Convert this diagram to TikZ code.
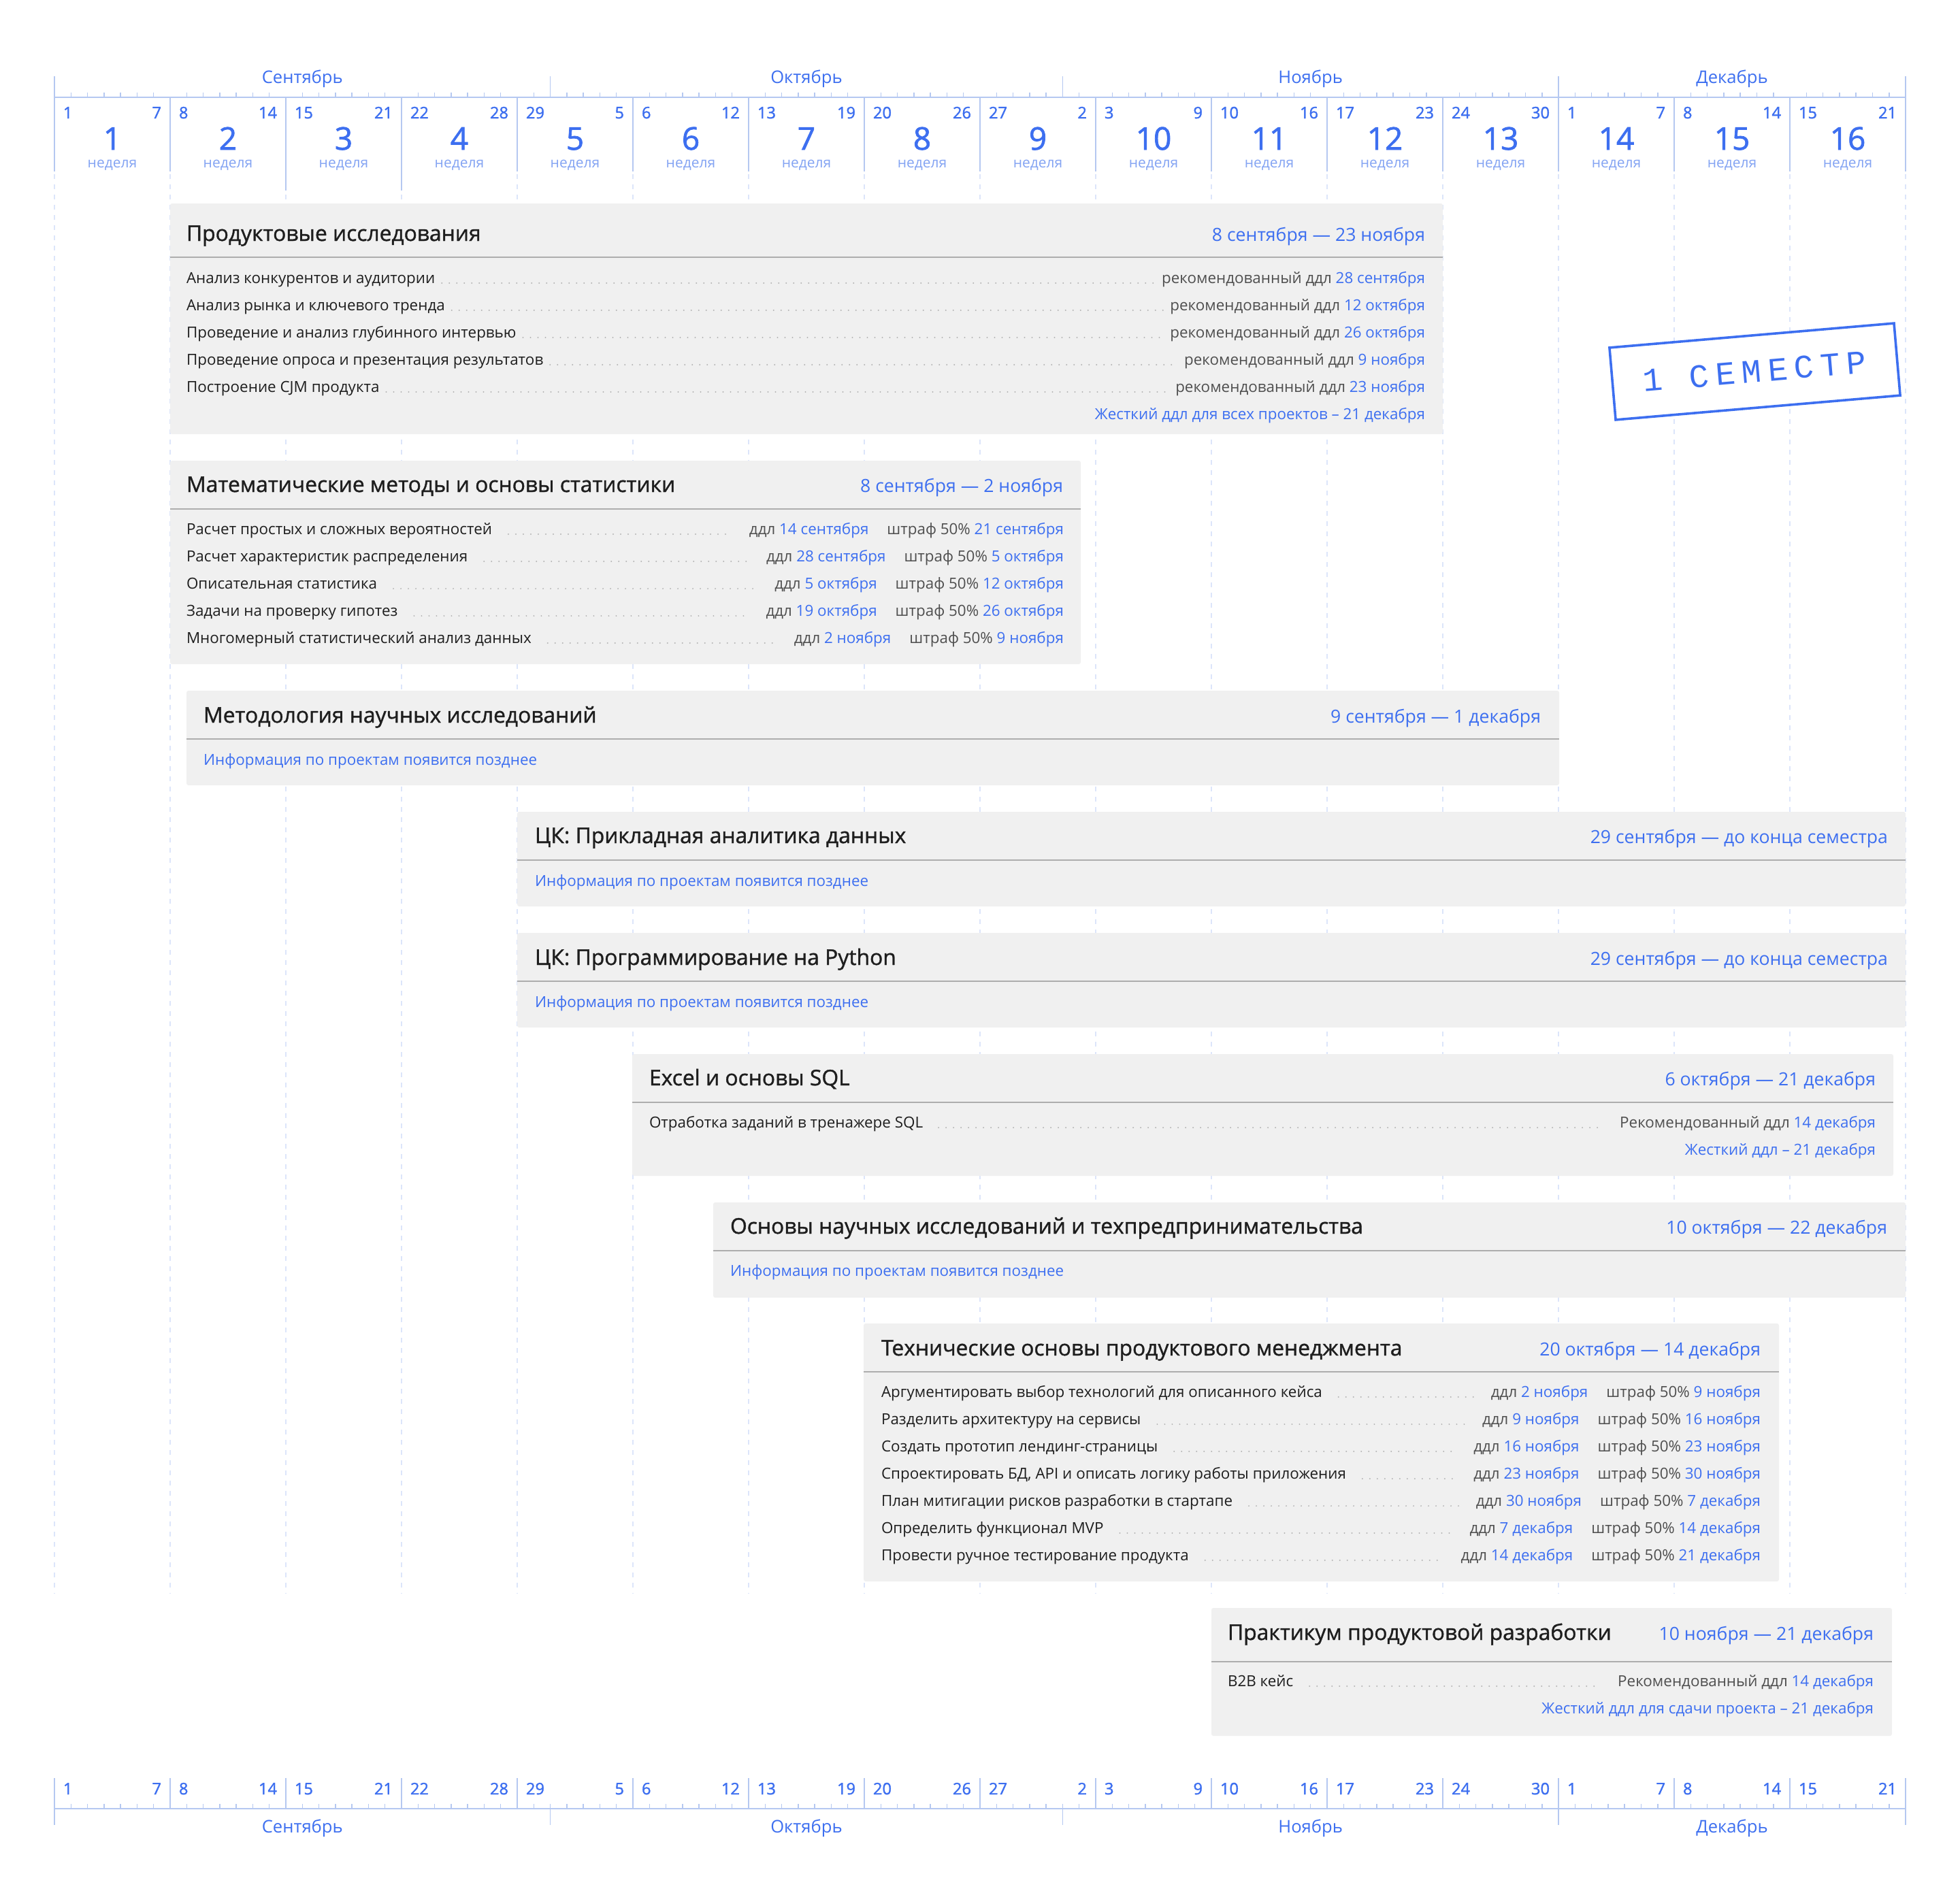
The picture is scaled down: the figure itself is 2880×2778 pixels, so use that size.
\documentclass[tikz,border=0pt]{standalone}
\usepackage{fontspec}
\setmainfont{Open Sans}
\newfontfamily\medfont[FakeBold=1.2]{Open Sans}
\newfontfamily\numfont[FakeBold=1.6]{Open Sans}
\newfontfamily\stampfont[LetterSpace=20]{Liberation Mono}
\usetikzlibrary{calc}
\definecolor{ablue}{HTML}{3D6FF0}
\definecolor{lblue}{HTML}{B5C8F1}
\definecolor{dblue}{HTML}{DCE5FA}
\definecolor{nblue}{HTML}{84A4F3}
\definecolor{cardbg}{HTML}{F0F0F0}
\definecolor{sepc}{HTML}{ADADAD}
\definecolor{txt}{HTML}{1E1E1E}
\definecolor{gtxt}{HTML}{4F4F4F}
\definecolor{dotc}{HTML}{B4B4B4}
\newcommand\bl[1]{\textcolor{ablue}{#1}}
\newcommand\gr[1]{\textcolor{gtxt}{#1}}
\tikzset{
  every node/.style={inner sep=0pt, outer sep=0pt},
  axisline/.style={draw=lblue, line width=0.5pt},
  wsep/.style={draw=lblue, line width=0.42pt},
  daytick/.style={draw=lblue, line width=0.38pt},
  gridline/.style={draw=dblue, line width=0.5pt, dash pattern=on 1.75pt off 2pt},
  mlabel/.style={font=\fontsize{6.4pt}{7pt}\selectfont, text=ablue, anchor=base},
  wsmall/.style={font=\numfont\fontsize{5.9pt}{7pt}\selectfont, text=ablue},
  wbig/.style={font=\numfont\fontsize{11.5pt}{13pt}\selectfont, text=ablue, anchor=base},
  wlbl/.style={font=\fontsize{5.25pt}{6pt}\selectfont, text=nblue, anchor=base},
  cardbox/.style={fill=cardbg, rounded corners=0.75pt},
  cardsep/.style={draw=sepc, line width=0.5pt},
  ctitle/.style={font=\medfont\fontsize{7.95pt}{9pt}\selectfont, text=txt, anchor=base west},
  cdate/.style={font=\fontsize{6.65pt}{8pt}\selectfont, text=ablue, anchor=base east},
  rowtxt/.style={font=\fontsize{5.6pt}{6.5pt}\selectfont, text=txt},
  infotxt/.style={font=\fontsize{5.6pt}{6.5pt}\selectfont, text=ablue, anchor=base west},
  hardtxt/.style={font=\fontsize{5.6pt}{6.5pt}\selectfont, text=ablue, anchor=base east},
  leader/.style={draw=dotc, line width=0.55pt, line cap=round, dash pattern=on 0pt off 2.75pt},
  stampbox/.style={draw=ablue, line width=0.9pt, fill=white, rotate=4.9,
    minimum width=104.9pt, minimum height=26.6pt,
    font=\stampfont\fontsize{12.1pt}{14pt}\selectfont, text=ablue},
}
\newcommand\rowA[7]{%
  \node[rowtxt, anchor=base west] (#1l) at (#2,#4) {#5};
  \node[rowtxt, anchor=base east] (#1r) at (#3,#4) {#6};
  \draw[leader] ($(#1l.base east)+(#7,0)$) -- ($(#1r.base west)+(-#7,0)$);
}
\begin{document}
\begin{tikzpicture}[x=0.25pt, y=-0.25pt]
\fill[white] (0,0) rectangle (2880,2778);
% ---------- grid dashed lines ----------
\foreach \w in {0,...,16} {
  \draw[gridline] (80+\w*170,256) -- (80+\w*170,2342);
}
% ---------- timelines ----------
\draw[axisline] (80,143) -- (2800,143);
\draw[axisline] (80,2658) -- (2800,2658);
\foreach \mx in {80,808.57,1561.43,2290,2800} {
  \draw[wsep] (\mx,112) -- (\mx,143);
  \draw[wsep] (\mx,2658) -- (\mx,2682);
}
\foreach \w in {0,...,15} {
  \foreach \j in {1,...,6} {
    \draw[daytick] ({80+\w*170+\j*170/7},136) -- ({80+\w*170+\j*170/7},143);
    \draw[daytick] ({80+\w*170+\j*170/7},2651) -- ({80+\w*170+\j*170/7},2658);
  }
}
\foreach \w in {0,...,16} {
  \draw[wsep] (80+\w*170,143) -- (80+\w*170,252);
  \draw[wsep] (80+\w*170,2613) -- (80+\w*170,2658);
}
\draw[wsep] (420,252) -- (420,280);
\draw[wsep] (590,252) -- (590,280);
\node[mlabel] (mt1) at (444.3,122) {Сентябрь};
\node[mlabel] (mt2) at (1185,122) {Октябрь};
\node[mlabel] (mt3) at (1925.7,122) {Ноябрь};
\node[mlabel] (mt4) at (2545,122) {Декабрь};
\node[mlabel] (mb1) at (444.3,2693) {Сентябрь};
\node[mlabel] (mb2) at (1185,2693) {Октябрь};
\node[mlabel] (mb3) at (1925.7,2693) {Ноябрь};
\node[mlabel] (mb4) at (2545,2693) {Декабрь};
\foreach \a/\b [count=\k] in {1/7,8/14,15/21,22/28,29/5,6/12,13/19,20/26,27/2,3/9,10/16,17/23,24/30,1/7,8/14,15/21} {
  \pgfmathsetmacro\xl{80+(\k-1)*170}
  \node[wsmall, anchor=base west] (wa\k) at (\xl+13,174) {\a};
  \node[wsmall, anchor=base east] (wb\k) at (\xl+157,174) {\b};
  \node[wbig] (wn\k) at (\xl+85,220) {\k};
  \node[wlbl] (wl\k) at (\xl+85,246) {неделя};
  \node[wsmall, anchor=base west] (ba\k) at (\xl+13,2637) {\a};
  \node[wsmall, anchor=base east] (bb\k) at (\xl+157,2637) {\b};
}
% ---------- Card 1 ----------
\fill[cardbox] (250,299) rectangle (2120,638);
\draw[cardsep] (250,378) -- (2120,378);
\node[ctitle] (c1t) at (274,354) {Продуктовые исследования};
\node[cdate] (c1d) at (2094,354) {8 сентября — 23 ноября};
\rowA{c1a}{274}{2094}{416}{Анализ конкурентов и аудитории}{\gr{рекомендованный ддл} \bl{28 сентября}}{10}
\rowA{c1b}{274}{2094}{456}{Анализ рынка и ключевого тренда}{\gr{рекомендованный ддл} \bl{12 октября}}{10}
\rowA{c1c}{274}{2094}{496}{Проведение и анализ глубинного интервью}{\gr{рекомендованный ддл} \bl{26 октября}}{10}
\rowA{c1e}{274}{2094}{536}{Проведение опроса и презентация результатов}{\gr{рекомендованный ддл} \bl{9 ноября}}{10}
\rowA{c1f}{274}{2094}{576}{Построение CJM продукта}{\gr{рекомендованный ддл} \bl{23 ноября}}{10}
\node[hardtxt] (c1h) at (2094,616) {Жесткий ддл для всех проектов – 21 декабря};
% ---------- Card 2 ----------
\fill[cardbox] (250,677) rectangle (1588,976);
\draw[cardsep] (250,748) -- (1588,748);
\node[ctitle] (c2t) at (274,723) {Математические методы и основы статистики};
\node[cdate] (c2d) at (1562,723) {8 сентября — 2 ноября};
\rowA{c2a}{274}{1563}{785}{Расчет простых и сложных вероятностей}{\gr{ддл} \bl{14 сентября}\hspace{6.75pt}\gr{штраф 50\%} \bl{21 сентября}}{24}
\rowA{c2b}{274}{1563}{825}{Расчет характеристик распределения}{\gr{ддл} \bl{28 сентября}\hspace{6.75pt}\gr{штраф 50\%} \bl{5 октября}}{24}
\rowA{c2c}{274}{1563}{865}{Описательная статистика}{\gr{ддл} \bl{5 октября}\hspace{6.75pt}\gr{штраф 50\%} \bl{12 октября}}{24}
\rowA{c2e}{274}{1563}{905}{Задачи на проверку гипотез}{\gr{ддл} \bl{19 октября}\hspace{6.75pt}\gr{штраф 50\%} \bl{26 октября}}{24}
\rowA{c2f}{274}{1563}{945}{Многомерный статистический анализ данных}{\gr{ддл} \bl{2 ноября}\hspace{6.75pt}\gr{штраф 50\%} \bl{9 ноября}}{24}
% ---------- Card 3 ----------
\fill[cardbox] (274,1015) rectangle (2291,1154);
\draw[cardsep] (274,1086) -- (2291,1086);
\node[ctitle] (c3t) at (299,1062) {Методология научных исследований};
\node[cdate] (c3d) at (2264,1062) {9 сентября — 1 декабря};
\node[infotxt] (c3i) at (299,1124) {Информация по проектам появится позднее};
% ---------- Card 4 ----------
\fill[cardbox] (760,1193) rectangle (2800,1332);
\draw[cardsep] (760,1264) -- (2800,1264);
\node[ctitle] (c4t) at (786,1239) {ЦК: Прикладная аналитика данных};
\node[cdate] (c4d) at (2774,1239) {29 сентября — до конца семестра};
\node[infotxt] (c4i) at (786,1302) {Информация по проектам появится позднее};
% ---------- Card 5 ----------
\fill[cardbox] (760,1371) rectangle (2800,1510);
\draw[cardsep] (760,1442) -- (2800,1442);
\node[ctitle] (c5t) at (786,1418) {ЦК: Программирование на Python};
\node[cdate] (c5d) at (2774,1418) {29 сентября — до конца семестра};
\node[infotxt] (c5i) at (786,1480) {Информация по проектам появится позднее};
% ---------- Card 6 ----------
\fill[cardbox] (929,1549) rectangle (2782,1728);
\draw[cardsep] (929,1620) -- (2782,1620);
\node[ctitle] (c6t) at (954,1595) {Excel и основы SQL};
\node[cdate] (c6d) at (2756,1595) {6 октября — 21 декабря};
\rowA{c6a}{954}{2756}{1657}{Отработка заданий в тренажере SQL}{\gr{Рекомендованный ддл} \bl{14 декабря}}{23}
\node[hardtxt] (c6h) at (2756,1697) {Жесткий ддл – 21 декабря};
% ---------- Card 7 ----------
\fill[cardbox] (1048,1767) rectangle (2800,1907);
\draw[cardsep] (1048,1838) -- (2800,1838);
\node[ctitle] (c7t) at (1073,1813) {Основы научных исследований и техпредпринимательства};
\node[cdate] (c7d) at (2773,1813) {10 октября — 22 декабря};
\node[infotxt] (c7i) at (1073,1875) {Информация по проектам появится позднее};
% ---------- Card 8 ----------
\fill[cardbox] (1269,1945) rectangle (2614,2324);
\draw[cardsep] (1269,2016) -- (2614,2016);
\node[ctitle] (c8t) at (1295,1992) {Технические основы продуктового менеджмента};
\node[cdate] (c8d) at (2587,1992) {20 октября — 14 декабря};
\rowA{c8a}{1295}{2587}{2053}{Аргументировать выбор технологий для описанного кейса}{\gr{ддл} \bl{2 ноября}\hspace{6.75pt}\gr{штраф 50\%} \bl{9 ноября}}{24}
\rowA{c8b}{1295}{2587}{2093}{Разделить архитектуру на сервисы}{\gr{ддл} \bl{9 ноября}\hspace{6.75pt}\gr{штраф 50\%} \bl{16 ноября}}{24}
\rowA{c8c}{1295}{2587}{2133}{Создать прототип лендинг-страницы}{\gr{ддл} \bl{16 ноября}\hspace{6.75pt}\gr{штраф 50\%} \bl{23 ноября}}{24}
\rowA{c8e}{1295}{2587}{2173}{Спроектировать БД, API и описать логику работы приложения}{\gr{ддл} \bl{23 ноября}\hspace{6.75pt}\gr{штраф 50\%} \bl{30 ноября}}{24}
\rowA{c8f}{1295}{2587}{2213}{План митигации рисков разработки в стартапе}{\gr{ддл} \bl{30 ноября}\hspace{6.75pt}\gr{штраф 50\%} \bl{7 декабря}}{24}
\rowA{c8g}{1295}{2587}{2253}{Определить функционал MVP}{\gr{ддл} \bl{7 декабря}\hspace{6.75pt}\gr{штраф 50\%} \bl{14 декабря}}{24}
\rowA{c8h}{1295}{2587}{2293}{Провести ручное тестирование продукта}{\gr{ддл} \bl{14 декабря}\hspace{6.75pt}\gr{штраф 50\%} \bl{21 декабря}}{24}
% ---------- Card 9 ----------
\fill[cardbox] (1780,2363) rectangle (2780,2551);
\draw[cardsep] (1780,2442) -- (2780,2442);
\node[ctitle] (c9t) at (1804,2410) {Практикум продуктовой разработки};
\node[cdate] (c9d) at (2753,2410) {10 ноября — 21 декабря};
\rowA{c9a}{1804}{2753}{2478}{B2B кейс}{\gr{Рекомендованный ддл} \bl{14 декабря}}{24}
\node[hardtxt] (c9h) at (2753,2518) {Жесткий ддл для сдачи проекта – 21 декабря};
% ---------- Stamp ----------
\node[stampbox] (stamp) at (2578.5,546) {1 СЕМЕСТР};
\end{tikzpicture}
\end{document}
